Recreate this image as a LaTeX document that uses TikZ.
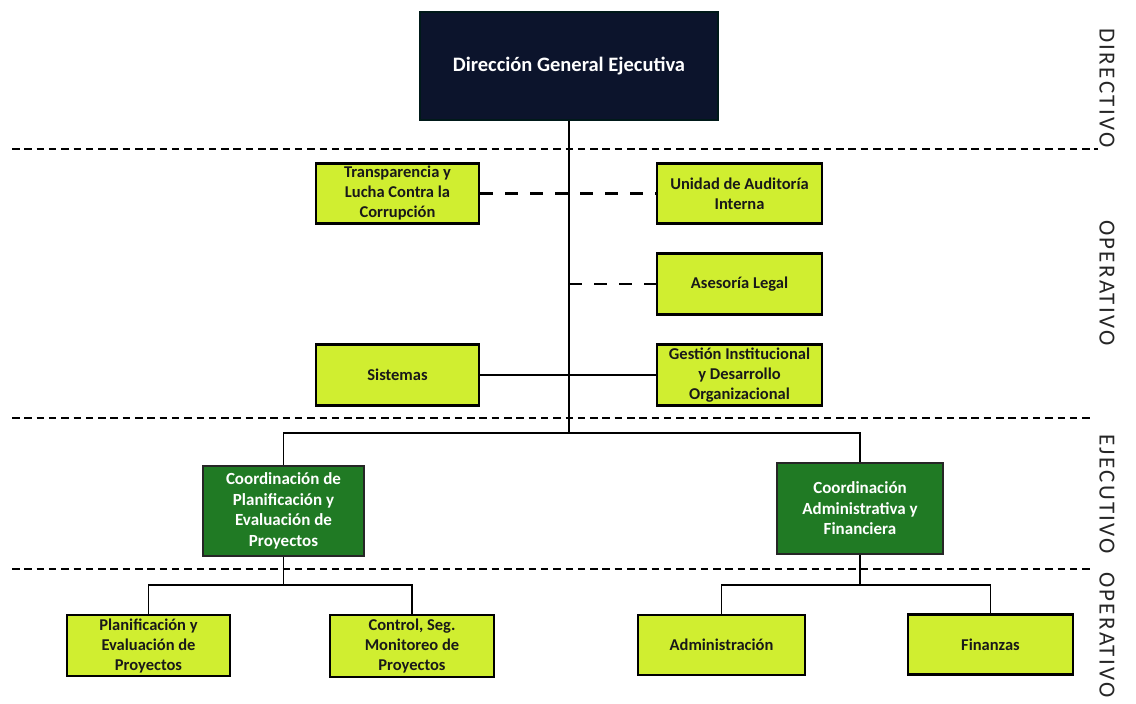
\documentclass[tikz,border=0pt]{standalone}
\usepackage{fontspec}
\setmainfont{Carlito}
\definecolor{ylw}{RGB}{208,238,48}
\definecolor{grn}{RGB}{32,122,36}
\definecolor{navy}{RGB}{12,20,44}
\begin{document}
\begin{tikzpicture}[x=1pt,y=-1pt,
  base/.style={draw=black, line width=2.2pt, align=center, inner sep=1pt, text=black!90,
    font=\bfseries\fontsize{16.5}{20}\selectfont},
  ybox/.style={base, fill=ylw},
  gbox/.style={base, fill=grn, text=white, draw=black!85, font=\bfseries\fontsize{17}{20.5}\selectfont},
  topbox/.style={base, fill=navy, text=white, font=\bfseries\fontsize{20.5}{24}\selectfont, draw=black!80!teal},
  conn/.style={line width=1.5pt, draw=black},
  dconn/.style={line width=2.2pt, draw=black, dash pattern=on 13pt off 12pt},
  sep/.style={line width=2.6pt, draw=black, dash pattern=on 7.5pt off 4.8pt},
  lab/.style={rotate=-90, font=\fontsize{23}{23}\selectfont\addfontfeatures{LetterSpace=10}, text=black!85, inner sep=0pt}
]
\fill[white] (0,0) rectangle (1136,704);
\useasboundingbox (0,0) rectangle (1136,704);

% separators
\coordinate (s1a) at (12,149); \coordinate (s1b) at (1098,149);
\coordinate (s2a) at (12,418); \coordinate (s2b) at (1092,418);
\coordinate (s3a) at (12,569); \coordinate (s3b) at (1092,569);
\draw[sep] (s1a) -- (s1b);
\draw[sep] (s2a) -- (s2b);
\draw[sep] (s3a) -- (s3b);

% level labels
\node[lab] (l1) at (1107,88) {DIRECTIVO};
\node[lab] (l2) at (1107,283) {OPERATIVO};
\node[lab] (l3) at (1107,494) {EJECUTIVO};
\node[lab] (l4) at (1107,635) {OPERATIVO};

% boxes
\node[topbox, minimum width=298pt, minimum height=108pt] (top) at (569,66) {Dirección General Ejecutiva};

\node[ybox, minimum width=163pt, minimum height=60pt] (trans) at (397.5,193.5) {Transparencia y\\Lucha Contra la\\Corrupción};
\node[ybox, minimum width=165pt, minimum height=60pt] (unid) at (739.5,193.5) {Unidad de Auditoría\\Interna};
\node[ybox, minimum width=165pt, minimum height=61pt] (ases) at (739.5,284) {Asesoría Legal};
\node[ybox, minimum width=163pt, minimum height=61pt] (sist) at (397.5,375) {Sistemas};
\node[ybox, minimum width=165pt, minimum height=61pt] (gest) at (739.5,375) {Gestión Institucional\\y Desarrollo\\Organizacional};

\node[gbox, minimum width=161pt, minimum height=90pt] (cpe) at (283.5,511) {Coordinación de\\Planificación y\\Evaluación de\\Proyectos};
\node[gbox, minimum width=166pt, minimum height=91pt] (caf) at (860,508.5) {Coordinación\\Administrativa y\\Financiera};

\node[ybox, minimum width=163pt, minimum height=61pt] (plan) at (148.5,645.5) {Planificación y\\Evaluación de\\Proyectos};
\node[ybox, minimum width=164pt, minimum height=62pt] (ctrl) at (412,646) {Control, Seg.\\Monitoreo de\\Proyectos};
\node[ybox, minimum width=167pt, minimum height=60pt] (adm) at (721.5,645) {Administración};
\node[ybox, minimum width=165pt, minimum height=60pt] (fin) at (990.5,644.5) {Finanzas};

% connectors
\coordinate (j) at (569,433);
\coordinate (a1) at (569,284);
\coordinate (b1) at (283.5,585);
\coordinate (b2) at (860,585);

\draw[conn] (top.south) -- (j);
\draw[conn] (cpe.north) |- (j) -| (caf.north);
\draw[dconn] (trans.east) -- (unid.west);
\draw[dconn] (a1) -- (ases.west);
\draw[conn] (sist.east) -- (gest.west);
\draw[conn] (cpe.south) -- (b1);
\draw[conn] (plan.north) |- (b1) -| (ctrl.north);
\draw[conn] (caf.south) -- (b2);
\draw[conn] (adm.north) |- (b2) -| (fin.north);
\end{tikzpicture}
\end{document}
